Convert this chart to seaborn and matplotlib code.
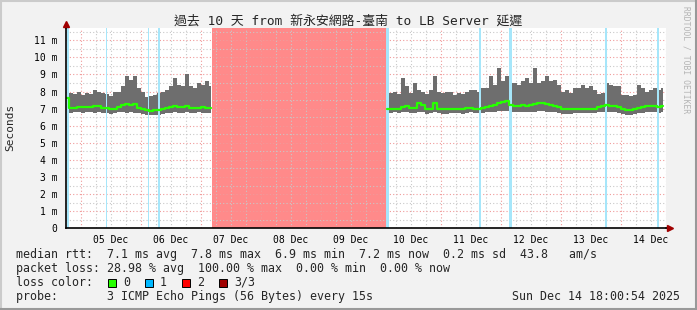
import numpy as np
import pandas as pd
import matplotlib
matplotlib.use("Agg")
import matplotlib.pyplot as plt
import matplotlib.dates as mdates
from matplotlib.lines import Line2D
from matplotlib.patches import Rectangle
import seaborn as sns

# ---------------- data ----------------
title = "過去 10 天 from 新永安網路-臺南 to LB Server 延遲"
ylabel = "Seconds"
t_start = "2025-12-04 18:00:54"
t_end = "2025-12-14 18:00:54"

step_min = 96
seg1_start = "2025-12-04 18:25"
seg1_max = [9.2, 7.9, 7.85, 7.95, 7.8, 7.9, 7.85, 8.1, 7.95, 7.9, 7.85, 7.75, 7.95,
            8.0, 8.3, 8.9, 8.7, 8.9, 8.2, 7.95, 7.7, 7.75, 7.8, 7.9, 8.0, 8.1, 8.3,
            8.8, 8.4, 8.3, 9.0, 8.3, 8.2, 8.5, 8.4, 8.6, 8.3]
seg1_min = [6.65, 6.75, 6.8, 6.8, 6.75, 6.8, 6.8, 6.75, 6.8, 6.75, 6.75, 6.7, 6.75,
            6.8, 6.8, 6.75, 6.8, 6.75, 6.75, 6.7, 6.6, 6.6, 6.65, 6.65, 6.7, 6.75, 6.75,
            6.8, 6.75, 6.75, 6.8, 6.75, 6.75, 6.8, 6.75, 6.75, 6.75]
seg1_med = [7.6, 7.05, 7.05, 7.1, 7.1, 7.1, 7.1, 7.15, 7.15, 7.05, 7.05, 6.95, 7.0,
            7.1, 7.2, 7.25, 7.2, 7.25, 7.05, 7.0, 6.9, 6.85, 6.9, 6.9, 7.0, 7.05, 7.1,
            7.15, 7.1, 7.1, 7.15, 7.05, 7.05, 7.05, 7.1, 7.05, 7.05]

seg2_start = "2025-12-10 02:25"
seg2_max = [7.6, 7.9, 8.0, 7.85, 8.8, 8.3, 7.9, 8.5, 8.1, 8.0, 7.85, 8.1, 8.9, 7.95,
            7.9, 8.0, 8.0, 7.8, 7.9, 7.85, 8.0, 8.1, 8.1, 8.0, 8.2, 8.2, 8.9, 8.4,
            9.35, 8.6, 8.9, 8.5, 8.5, 8.4, 8.6, 8.8, 8.5, 9.4, 8.5, 8.6, 8.9, 8.6,
            8.7, 8.4, 8.0, 8.1, 7.9, 8.2, 8.2, 8.4, 8.2, 8.3, 8.1, 7.85, 7.9, 8.5,
            8.4, 8.3, 8.3, 7.8, 7.8, 7.75, 7.8, 8.4, 8.2, 8.0, 8.1, 8.2, 8.1, 8.2]
seg2_min = [6.75, 6.75, 6.8, 6.75, 6.8, 6.8, 6.75, 6.75, 6.8, 6.8, 6.7, 6.75, 6.8, 6.75,
            6.7, 6.7, 6.75, 6.75, 6.75, 6.7, 6.75, 6.8, 6.75, 6.75, 6.75, 6.8, 6.8, 6.8,
            6.85, 6.85, 6.85, 6.8, 6.8, 6.8, 6.8, 6.8, 6.8, 6.8, 6.85, 6.85, 6.8, 6.8,
            6.8, 6.75, 6.7, 6.7, 6.7, 6.75, 6.75, 6.75, 6.75, 6.75, 6.75, 6.8, 6.8, 6.8,
            6.8, 6.8, 6.75, 6.7, 6.65, 6.65, 6.7, 6.75, 6.75, 6.8, 6.8, 6.8, 6.75, 6.8]
seg2_med = [6.95, 7.0, 7.0, 7.0, 7.1, 7.15, 7.05, 7.05, 7.3, 7.2, 6.95, 7.0, 7.3, 7.0,
            6.95, 6.95, 6.95, 7.0, 7.0, 7.0, 7.05, 7.05, 7.0, 7.0, 7.05, 7.1, 7.15, 7.2,
            7.35, 7.4, 7.45, 7.2, 7.15, 7.15, 7.2, 7.15, 7.2, 7.25, 7.3, 7.3, 7.25, 7.2,
            7.15, 7.1, 6.95, 6.95, 6.95, 6.95, 6.95, 6.95, 7.0, 7.0, 7.0, 7.1, 7.15, 7.2,
            7.15, 7.15, 7.1, 6.95, 6.9, 6.9, 6.95, 7.05, 7.1, 7.15, 7.15, 7.15, 7.1, 7.15]

outage_start = "2025-12-07 04:30"
outage_end = "2025-12-10 01:55"

loss1_times = ["2025-12-04 18:20", "2025-12-05 10:06", "2025-12-06 02:37",
               "2025-12-06 06:49", "2025-12-10 02:00", "2025-12-11 15:12",
               "2025-12-12 03:12", "2025-12-13 17:36", "2025-12-14 14:31"]
loss1_minutes = [62, 30, 25, 55, 62, 48, 70, 45, 30]

yticks = list(range(0, 12))

legend_lines = [
    "median rtt:  7.1 ms avg  7.8 ms max  6.9 ms min  7.2 ms now  0.2 ms sd  43.8   am/s",
    "packet loss: 28.98 % avg  100.00 % max  0.00 % min  0.00 % now",
    "loss color:",
    "probe:       3 ICMP Echo Pings (56 Bytes) every 15s",
]
loss_labels = ["0", "1", "2", "3/3"]
loss_colors = ["#26ff00", "#00b8ff", "#ff0000", "#a00000"]
timestamp = "Sun Dec 14 18:00:54 2025"
watermark = "RRDTOOL / TOBI OETIKER"

# ---------------- style ----------------
W, H = 697, 310
sns.set_style("white")
mono = ["DejaVu Sans Mono", "Noto Sans CJK TC"]
plt.rcParams["font.family"] = mono

BG = "#f2f2f2"
SMOKE = "#6e6e6e"
LOSS1_BG = "#a6e6fa"
OUTAGE = "#ff8a8a"


def fx(x):
    return x / W


def fy(y):
    return 1 - y / H


fig = plt.figure(figsize=(W / 100, H / 100), dpi=100, facecolor=BG)
ax_left, ax_right, ax_top, ax_bot = 66, 666, 28, 228.3
ax = fig.add_axes([fx(ax_left), fy(ax_bot), (ax_right - ax_left) / W, (ax_bot - ax_top) / H])
ax.set_facecolor("white")

t0 = pd.Timestamp(t_start)
t1 = pd.Timestamp(t_end)

segments = []
for s, mx, mn, md in [(seg1_start, seg1_max, seg1_min, seg1_med),
                      (seg2_start, seg2_max, seg2_min, seg2_med)]:
    times = pd.date_range(s, periods=len(mx), freq=f"{step_min}min")
    segments.append(pd.DataFrame({"time": times, "max": mx, "min": mn, "median": md}))

# outage (100% loss) background
ax.axvspan(pd.Timestamp(outage_start), pd.Timestamp(outage_end), color=OUTAGE, lw=0, zorder=1)

# grid (dotted) on top of background
hours6 = pd.date_range(t0.ceil("6h"), t1, freq="6h")
for t in hours6:
    if t.hour == 0:
        ax.axvline(t, color="#f09a9a", lw=0.8, ls=(0, (1, 2)), zorder=2)
    else:
        ax.axvline(t, color="#c8c8c8", lw=0.8, ls=(0, (1, 2)), zorder=2)
for v in np.arange(0.5, 12, 0.5):
    if float(v).is_integer():
        ax.axhline(v, color="#f09a9a", lw=0.8, ls=(0, (1, 2)), zorder=2)
    else:
        ax.axhline(v, color="#c8c8c8", lw=0.8, ls=(0, (1, 2)), zorder=2)

# smoke
for df in segments:
    ax.fill_between(df["time"], df["min"], df["max"], step="mid", color=SMOKE, lw=0, zorder=3)

# loss 1/3 markers
for t, m in zip(loss1_times, loss1_minutes):
    ts = pd.Timestamp(t)
    ax.axvspan(ts, ts + pd.Timedelta(minutes=m), color=LOSS1_BG, lw=0, zorder=4)

# median line
for df in segments:
    sns.lineplot(data=df, x="time", y="median", ax=ax, color=loss_colors[0],
                 lw=1.6, drawstyle="steps-mid", zorder=5, legend=False)

ax.set_xlim(t0, t1)
ax.set_ylim(0, (ax_bot - ax_top) / 17.1)

# axes formatting
for sp in ["top", "right"]:
    ax.spines[sp].set_visible(False)
ax.spines["left"].set_color("black")
ax.spines["bottom"].set_color("black")
ax.spines["left"].set_linewidth(1.2)
ax.spines["bottom"].set_linewidth(1.2)
ax.spines["left"].set_zorder(6)
ax.spines["bottom"].set_zorder(6)

ax.set_yticks(yticks)
ax.set_yticklabels(["0"] + [f"{v} m" for v in yticks[1:]])
noon = pd.date_range("2025-12-05 12:00", "2025-12-14 12:00", freq="1D")
ax.set_xticks(noon)
ax.set_xticklabels([t.strftime("%d Dec") for t in noon])
ax.tick_params(axis="both", labelsize=7, length=0, colors="black")
ax.tick_params(axis="y", pad=6)
ax.tick_params(axis="x", pad=5)
ax.set_xlabel("")
ax.set_ylabel("")

# axis arrows
ax.plot([0], [1.02], marker="^", color="#a00000", ms=4.5, transform=ax.transAxes,
        clip_on=False, zorder=7)
ax.plot([1.006], [0], marker=">", color="#a00000", ms=4.5, transform=ax.transAxes,
        clip_on=False, zorder=7)
ax.add_line(Line2D([0, 0], [1.0, 1.02], transform=ax.transAxes, color="black",
                   lw=1.2, clip_on=False, zorder=6))
ax.add_line(Line2D([1.0, 1.006], [0, 0], transform=ax.transAxes, color="black",
                   lw=1.2, clip_on=False, zorder=6))

# titles
fig.text(fx(348), fy(21), title, ha="center", va="center", fontsize=9.3, family=mono)
fig.text(fx(10), fy(127), ylabel, ha="center", va="center", rotation=90, fontsize=8)
fig.text(fx(686), fy(6), watermark, ha="center", va="top", rotation=270,
         fontsize=5.8, color="#b4b4b4")

# legend
ys = [254.3, 268.3, 282.3, 296.2]
for line, y in zip(legend_lines, ys):
    fig.text(fx(16), fy(y), line, ha="left", va="center", fontsize=8.4)
box_x = [108, 145, 182, 219]
for bx, lab, col in zip(box_x, loss_labels, loss_colors):
    fig.add_artist(Rectangle((fx(bx), fy(287)), 8 / W, 8 / H, facecolor=col,
                             edgecolor="black", lw=0.7, transform=fig.transFigure))
    fig.text(fx(bx + 15), fy(ys[2]), lab, ha="left", va="center", fontsize=8.4)
fig.text(fx(680), fy(ys[3]), timestamp, ha="right", va="center", fontsize=8.4)

# 3D frame
fig.add_artist(Line2D([0, 1], [fy(1), fy(1)], transform=fig.transFigure, color="#cbcbcb", lw=1.5))
fig.add_artist(Line2D([fx(1), fx(1)], [0, 1], transform=fig.transFigure, color="#cbcbcb", lw=1.5))
fig.add_artist(Line2D([0, 1], [fy(H - 1), fy(H - 1)], transform=fig.transFigure, color="#999999", lw=1.5))
fig.add_artist(Line2D([fx(W - 1), fx(W - 1)], [0, 1], transform=fig.transFigure, color="#999999", lw=1.5))

fig.savefig("out.png", dpi=100, facecolor=BG)
